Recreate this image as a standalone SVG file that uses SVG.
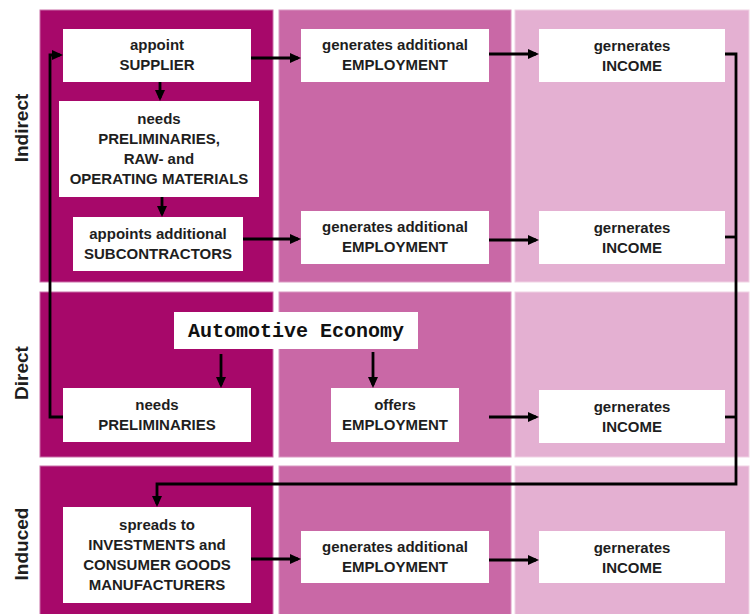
<svg xmlns="http://www.w3.org/2000/svg" width="751" height="614" viewBox="0 0 751 614">
<style>
.p1{fill:#A7086A;stroke:#C96FA8;stroke-width:1}
.p2{fill:#C968A6;stroke:#DA98C2;stroke-width:1}
.p3{fill:#E4B0D2;stroke:#F0D2E4;stroke-width:1}
.box{fill:#FFFFFF}
.t{font-family:"Liberation Sans",Arial,sans-serif;font-weight:bold;font-size:15px;fill:#1E1E1E;text-anchor:middle}
.lbl{font-family:"Liberation Sans",Arial,sans-serif;font-weight:bold;font-size:19px;fill:#1E1E1E;text-anchor:middle}
.mono{font-family:"Liberation Mono","DejaVu Sans Mono",monospace;font-weight:bold;font-size:20px;fill:#111;text-anchor:middle}
.c{fill:none;stroke:#000;stroke-width:2.8}
.a{marker-end:url(#ah)}
</style>
<defs>
<marker id="ah" viewBox="0 0 11 10" markerWidth="11" markerHeight="10" refX="8" refY="5" orient="auto" markerUnits="userSpaceOnUse">
<path d="M0,0 L11,5 L0,10 z" fill="#000"/>
</marker>
</defs>
<rect width="751" height="614" fill="#FFFFFF"/>
<g id="panels">
<rect class="p1" x="40" y="10" width="233" height="272"/>
<rect class="p2" x="279" y="10" width="232" height="272"/>
<rect class="p3" x="515" y="10" width="234" height="272"/>
<rect class="p1" x="40" y="292" width="233" height="165"/>
<rect class="p2" x="279" y="292" width="232" height="165"/>
<rect class="p3" x="515" y="292" width="234" height="165"/>
<rect class="p1" x="40" y="466" width="233" height="150"/>
<rect class="p2" x="279" y="466" width="232" height="150"/>
<rect class="p3" x="515" y="466" width="234" height="150"/>
</g>
<g id="row-labels">
<text class="lbl" transform="rotate(-90 28 128)" x="28" y="128">Indirect</text>
<text class="lbl" transform="rotate(-90 28 373)" x="28" y="373">Direct</text>
<text class="lbl" transform="rotate(-90 28 544)" x="28" y="544">Induced</text>
</g>
<g id="connectors">
<path class="c a" d="M251,58 H298"/>
<path class="c a" d="M489,54 H536"/>
<path class="c a" d="M160,82 V98"/>
<path class="c a" d="M162,197 V214"/>
<path class="c a" d="M243,239 H298"/>
<path class="c a" d="M489,240 H536"/>
<path class="c a" d="M725,54 H736 V484 H157 V504"/>
<path class="c" d="M725,237 H736"/>
<path class="c" d="M725,417 H736"/>
<path class="c a" d="M63,417 H50 V55 H60"/>
<path class="c a" d="M221,354 V385"/>
<path class="c a" d="M373,352 V385"/>
<path class="c a" d="M489,417 H536"/>
<path class="c a" d="M251,559 H298"/>
<path class="c a" d="M489,560 H536"/>
</g>
<g id="supplier">
<rect class="box" x="63" y="29" width="188" height="53"/>
<text class="t" x="157" y="50">appoint</text>
<text class="t" x="157" y="70">SUPPLIER</text>
</g>
<g id="materials">
<rect class="box" x="59" y="101" width="200" height="96"/>
<text class="t" x="159" y="124">needs</text>
<text class="t" x="159" y="144">PRELIMINARIES,</text>
<text class="t" x="159" y="164">RAW- and</text>
<text class="t" x="159" y="184">OPERATING MATERIALS</text>
</g>
<g id="subcontractors">
<rect class="box" x="73" y="217" width="170" height="54"/>
<text class="t" x="158" y="239">appoints additional</text>
<text class="t" x="158" y="259">SUBCONTRACTORS</text>
</g>
<g id="employment-1">
<rect class="box" x="301" y="29" width="188" height="53"/>
<text class="t" x="395" y="50">generates additional</text>
<text class="t" x="395" y="70">EMPLOYMENT</text>
</g>
<g id="income-1">
<rect class="box" x="539" y="29" width="186" height="53"/>
<text class="t" x="632" y="51">gernerates</text>
<text class="t" x="632" y="71">INCOME</text>
</g>
<g id="employment-2">
<rect class="box" x="301" y="211" width="188" height="53"/>
<text class="t" x="395" y="232">generates additional</text>
<text class="t" x="395" y="252">EMPLOYMENT</text>
</g>
<g id="income-2">
<rect class="box" x="539" y="211" width="186" height="53"/>
<text class="t" x="632" y="233">gernerates</text>
<text class="t" x="632" y="253">INCOME</text>
</g>
<g id="automotive-economy">
<rect class="box" x="174" y="312" width="244" height="37"/>
<text class="mono" x="296" y="337">Automotive Economy</text>
</g>
<g id="preliminaries">
<rect class="box" x="63" y="388" width="188" height="54"/>
<text class="t" x="157" y="410">needs</text>
<text class="t" x="157" y="430">PRELIMINARIES</text>
</g>
<g id="offers-employment">
<rect class="box" x="331" y="388" width="128" height="54"/>
<text class="t" x="395" y="410">offers</text>
<text class="t" x="395" y="430">EMPLOYMENT</text>
</g>
<g id="income-3">
<rect class="box" x="539" y="390" width="186" height="53"/>
<text class="t" x="632" y="412">gernerates</text>
<text class="t" x="632" y="432">INCOME</text>
</g>
<g id="spreads">
<rect class="box" x="63" y="507" width="188" height="96"/>
<text class="t" x="157" y="530">spreads to</text>
<text class="t" x="157" y="550">INVESTMENTS and</text>
<text class="t" x="157" y="570">CONSUMER GOODS</text>
<text class="t" x="157" y="590">MANUFACTURERS</text>
</g>
<g id="employment-3">
<rect class="box" x="301" y="531" width="188" height="52"/>
<text class="t" x="395" y="552">generates additional</text>
<text class="t" x="395" y="572">EMPLOYMENT</text>
</g>
<g id="income-4">
<rect class="box" x="539" y="531" width="186" height="52"/>
<text class="t" x="632" y="553">gernerates</text>
<text class="t" x="632" y="573">INCOME</text>
</g>
</svg>
